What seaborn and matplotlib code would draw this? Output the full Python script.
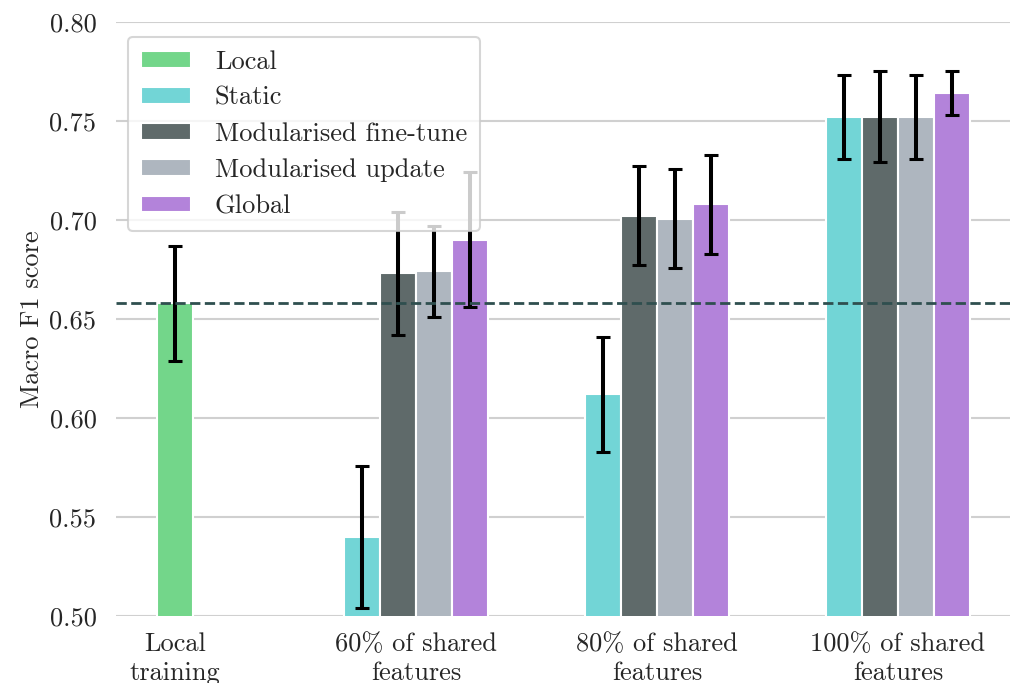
import numpy as np
import pandas as pd
import matplotlib
matplotlib.use("Agg")
import matplotlib.pyplot as plt
import seaborn as sns

# ---- data ----
groups = ["Local\ntraining", "60% of shared\nfeatures", "80% of shared\nfeatures", "100% of shared\nfeatures"]
methods = ["Local", "Static", "Modularised fine-tune", "Modularised update", "Global"]
colors = ["#73D68A", "#72D5D6", "#5F6A6A", "#AEB6BF", "#B383DA"]

local_mean = [0.658]
local_err = [0.029]
static_mean = [0.540, 0.612, 0.752]
static_err = [0.036, 0.029, 0.021]
finetune_mean = [0.673, 0.702, 0.752]
finetune_err = [0.031, 0.025, 0.023]
update_mean = [0.674, 0.7005, 0.752]
update_err = [0.023, 0.025, 0.021]
global_mean = [0.690, 0.708, 0.764]
global_err = [0.034, 0.025, 0.011]

# ---- table ----
rows = []
rows.append((0, "Local", local_mean[0], local_err[0]))
for gi in range(3):
    rows.append((gi + 1, "Static", static_mean[gi], static_err[gi]))
    rows.append((gi + 1, "Modularised fine-tune", finetune_mean[gi], finetune_err[gi]))
    rows.append((gi + 1, "Modularised update", update_mean[gi], update_err[gi]))
    rows.append((gi + 1, "Global", global_mean[gi], global_err[gi]))
df = pd.DataFrame(rows, columns=["group", "method", "value", "err"])

bw = 0.15
counts = df.groupby("group")["method"].transform("count")
slot = df.groupby("group").cumcount()
df["x"] = df["group"] + (slot - (counts - 1) / 2.0) * bw

# ---- style ----
sns.set_theme(style="whitegrid")
plt.rcParams["font.family"] = ["cmr10", "DejaVu Serif"]
plt.rcParams["axes.formatter.use_mathtext"] = True
plt.rcParams["mathtext.fontset"] = "cm"

fig = plt.figure(figsize=(10.16, 6.83), dpi=100)
ax = fig.add_axes([0.114, 0.098, 0.880, 0.870])

sns.barplot(data=df, x="x", y="value", hue="method", hue_order=methods,
            palette=dict(zip(methods, colors)), native_scale=True, dodge=False,
            width=1.0, edgecolor="white", linewidth=1.5, errorbar=None,
            saturation=1, ax=ax, zorder=2)

ax.errorbar(df["x"], df["value"], yerr=df["err"], fmt="none", ecolor="black",
            elinewidth=2.9, capsize=5, capthick=2.2, zorder=3)

ax.axhline(local_mean[0], color="#2F4F4F", ls="--", lw=2, zorder=4)

ax.set_ylim(0.5, 0.8)
ax.set_yticks([0.50, 0.55, 0.60, 0.65, 0.70, 0.75, 0.80])
ax.set_yticklabels(["0.50", "0.55", "0.60", "0.65", "0.70", "0.75", "0.80"])
ax.set_xlim(-0.245, 3.465)
ax.set_xticks(range(len(groups)))
ax.set_xticklabels(groups, linespacing=1.25)
ax.tick_params(axis="both", labelsize=19, length=0, colors="#262626")
ax.tick_params(axis="y", pad=14)
ax.tick_params(axis="x", pad=12)
ax.set_xlabel("")
ax.set_ylabel("Macro F1 score", fontsize=19, color="#262626", labelpad=4)
ax.grid(axis="x", visible=False)
ax.grid(axis="y", color="#D0D0D0", lw=1.5)
ax.set_axisbelow(True)
sns.despine(ax=ax, left=True, bottom=True)

leg = ax.legend(loc="upper left", bbox_to_anchor=(0.0134, 0.975), borderaxespad=0,
                fontsize=19, frameon=True, framealpha=0.8, edgecolor="#CCCCCC",
                handlelength=1.9, handleheight=0.6, handletextpad=0.9,
                labelspacing=0.47, borderpad=0.5)
leg.set_zorder(5)
leg.get_frame().set_linewidth(1.5)

fig.savefig("out.png", dpi=100)
